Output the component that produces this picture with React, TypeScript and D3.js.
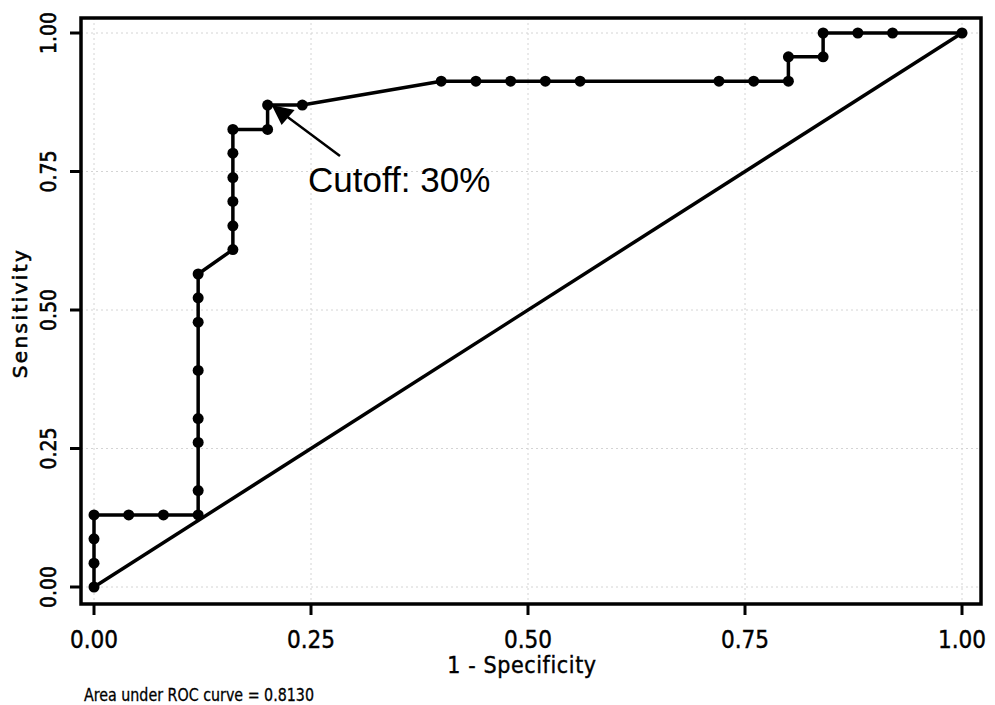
import React, { useEffect, useRef } from 'react';
import * as d3 from 'd3';

// ROC curve points (1 - specificity, sensitivity)
const fpr = [
  0, 0, 0, 0, 0.04, 0.08, 0.12, 0.12, 0.12, 0.12, 0.12, 0.12, 0.12, 0.12,
  0.16, 0.16, 0.16, 0.16, 0.16, 0.16, 0.2, 0.2, 0.24, 0.4, 0.44, 0.48, 0.52,
  0.56, 0.72, 0.76, 0.8, 0.8, 0.84, 0.84, 0.88, 0.92, 1,
];
const sensitivity = [
  0, 0.043, 0.087, 0.13, 0.13, 0.13, 0.13, 0.174, 0.261, 0.304, 0.391, 0.478,
  0.522, 0.565, 0.609, 0.652, 0.696, 0.739, 0.783, 0.826, 0.826, 0.87, 0.87,
  0.913, 0.913, 0.913, 0.913, 0.913, 0.913, 0.913, 0.913, 0.957, 0.957, 1, 1,
  1, 1,
];
const tickValues = [0, 0.25, 0.5, 0.75, 1];
const tickLabels = ['0.00', '0.25', '0.50', '0.75', '1.00'];
const cutoff = { fpr: 0.2, sensitivity: 0.87, label: 'Cutoff: 30%' };
const aucText = 'Area under ROC curve = 0.8130';

const W = 995;
const H = 705;
const frame = { left: 81, right: 981, top: 18, bottom: 604 };
const condensed = '"DejaVu Sans Condensed", "DejaVu Sans", sans-serif';

const App = () => {
  const ref = useRef(null);

  useEffect(() => {
    const svg = d3.select(ref.current);
    svg.selectAll('*').remove();

    const x = d3.scaleLinear().domain([0, 1]).range([94, 962]);
    const y = d3.scaleLinear().domain([0, 1]).range([587, 33]);

    // grid
    const grid = svg.append('g').attr('stroke', '#d4d4d4').attr('stroke-width', 1).attr('stroke-dasharray', '2 3');
    grid
      .selectAll('line.gx')
      .data(tickValues)
      .enter()
      .append('line')
      .attr('x1', d => x(d))
      .attr('x2', d => x(d))
      .attr('y1', frame.top)
      .attr('y2', frame.bottom);
    grid
      .selectAll('line.gy')
      .data(tickValues)
      .enter()
      .append('line')
      .attr('y1', d => y(d))
      .attr('y2', d => y(d))
      .attr('x1', frame.left)
      .attr('x2', frame.right);

    // frame
    svg
      .append('rect')
      .attr('x', frame.left)
      .attr('y', frame.top)
      .attr('width', frame.right - frame.left)
      .attr('height', frame.bottom - frame.top)
      .attr('fill', 'none')
      .attr('stroke', '#000')
      .attr('stroke-width', 3.5);

    // ticks
    svg
      .selectAll('line.tx')
      .data(tickValues)
      .enter()
      .append('line')
      .attr('x1', d => x(d))
      .attr('x2', d => x(d))
      .attr('y1', frame.bottom)
      .attr('y2', frame.bottom + 11)
      .attr('stroke', '#000')
      .attr('stroke-width', 3);
    svg
      .selectAll('line.ty')
      .data(tickValues)
      .enter()
      .append('line')
      .attr('y1', d => y(d))
      .attr('y2', d => y(d))
      .attr('x1', frame.left)
      .attr('x2', frame.left - 11)
      .attr('stroke', '#000')
      .attr('stroke-width', 3);

    // x tick labels
    svg
      .selectAll('text.tx')
      .data(tickValues)
      .enter()
      .append('text')
      .attr('x', d => x(d))
      .attr('y', 648)
      .attr('text-anchor', 'middle')
      .style('font-family', condensed)
      .style('font-size', '24px')
      .style('stroke', '#000')
      .style('stroke-width', 0.4)
      .text((d, i) => tickLabels[i]);

    // y tick labels (rotated)
    svg
      .selectAll('text.ty')
      .data(tickValues)
      .enter()
      .append('text')
      .attr('transform', d => `translate(56 ${y(d)}) rotate(-90)`)
      .attr('text-anchor', 'middle')
      .style('font-family', condensed)
      .style('font-size', '21px')
      .style('stroke', '#000')
      .style('stroke-width', 0.6)
      .text((d, i) => tickLabels[i]);

    svg
      .append('text')
      .attr('x', x(0.5) - 6)
      .attr('y', 673)
      .attr('text-anchor', 'middle')
      .style('font-family', condensed)
      .style('font-size', '23px')
      .style('letter-spacing', '0.6px')
      .style('stroke', '#000')
      .style('stroke-width', 0.4)
      .text('1 - Specificity');

    svg
      .append('text')
      .attr('transform', `translate(27 313) rotate(-90)`)
      .attr('text-anchor', 'middle')
      .style('font-family', '"DejaVu Sans", sans-serif')
      .style('font-size', '20px')
      .style('letter-spacing', '2.4px')
      .style('stroke', '#000')
      .style('stroke-width', 0.6)
      .text('Sensitivity');

    svg
      .append('text')
      .attr('x', 84)
      .attr('y', 701)
      .attr('textLength', 230)
      .attr('lengthAdjust', 'spacingAndGlyphs')
      .style('font-family', condensed)
      .style('font-size', '18px')
      .style('stroke', '#000')
      .style('stroke-width', 0.3)
      .text(aucText);

    // diagonal reference
    svg
      .append('line')
      .attr('x1', x(0))
      .attr('y1', y(0))
      .attr('x2', x(1))
      .attr('y2', y(1))
      .attr('stroke', '#000')
      .attr('stroke-width', 3.5);

    // ROC curve
    const pts = fpr.map((f, i) => [f, sensitivity[i]]);
    const line = d3
      .line()
      .x(d => x(d[0]))
      .y(d => y(d[1]));
    svg
      .append('path')
      .attr('d', line(pts))
      .attr('fill', 'none')
      .attr('stroke', '#000')
      .attr('stroke-width', 3.5)
      .attr('stroke-linejoin', 'round');
    svg
      .selectAll('circle.pt')
      .data(pts)
      .enter()
      .append('circle')
      .attr('cx', d => x(d[0]))
      .attr('cy', d => y(d[1]))
      .attr('r', 5.5)
      .attr('fill', '#000');

    // cutoff annotation
    const tipX = x(cutoff.fpr) + 4;
    const tipY = y(cutoff.sensitivity);
    svg
      .append('line')
      .attr('x1', tipX + 16)
      .attr('y1', tipY + 12)
      .attr('x2', 340)
      .attr('y2', 156)
      .attr('stroke', '#000')
      .attr('stroke-width', 2.5);
    svg
      .append('path')
      .attr('d', `M${tipX},${tipY} L${tipX + 23},${tipY + 5} L${tipX + 10},${tipY + 20} Z`)
      .attr('fill', '#000');
    svg
      .append('text')
      .attr('x', 308)
      .attr('y', 192)
      .style('font-family', '"Liberation Sans", Arial, sans-serif')
      .style('font-size', '35px')
      .text(cutoff.label);
  }, []);

  return (
    <div style={{ position: 'absolute', left: 0, top: 0 }}>
      <svg ref={ref} width={W} height={H} style={{ display: 'block', background: '#fff' }} />
    </div>
  );
};

export default App;
